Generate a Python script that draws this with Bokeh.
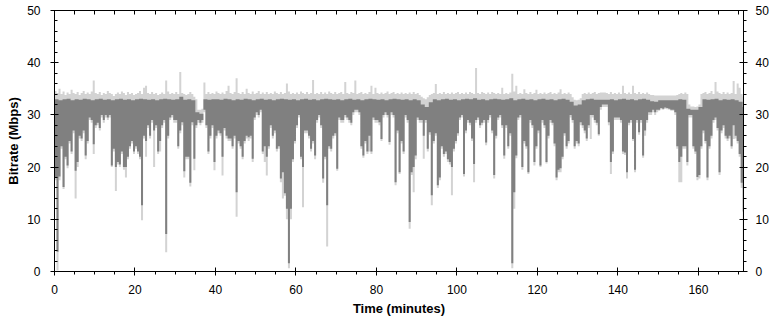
from bokeh.plotting import figure
from bokeh.models import Range1d, LinearAxis, SingleIntervalTicker, FixedTicker
from bokeh.embed import file_html
from bokeh.resources import INLINE

# ---- data, bins of 0.5 minute ----
bin_minutes = 0.5

# lowest value of the dark (average) trace in each half-minute bin, Mbps
dark_lo = [
    18.0, 3.8, 18.2, 24.0, 16.2, 22.0, 20.3, 25.0, 23.0, 27.0,
    19.3, 21.0, 26.0, 25.5, 27.0, 22.2, 25.0, 29.5, 29.0, 24.4,
    28.0, 28.5, 27.5, 30.0, 29.0, 30.0, 29.5, 30.0, 20.3, 23.5,
    20.0, 21.0, 20.5, 23.0, 20.0, 20.0, 22.0, 24.0, 25.0, 23.0,
    24.0, 23.0, 22.0, 12.7, 26.0, 25.0, 28.0, 26.0, 29.0, 27.0,
    28.0, 23.0, 25.0, 28.0, 29.0, 7.2, 26.0, 29.5, 30.0, 29.0,
    29.0, 24.0, 27.0, 28.6, 19.2, 22.0, 22.0, 17.0, 28.6, 21.6,
    28.0, 29.0, 28.5, 29.0, 31.0, 28.0, 23.0, 26.0, 28.0, 21.0,
    26.0, 27.0, 26.5, 22.0, 27.5, 26.0, 25.5, 25.5, 24.0, 26.0,
    15.2, 25.0, 24.0, 22.0, 25.0, 26.0, 25.7, 26.0, 21.6, 29.5,
    30.5, 30.0, 31.0, 23.0, 24.0, 22.0, 24.0, 28.0, 26.0, 27.0,
    23.5, 24.0, 17.8, 19.0, 15.0, 12.0, 1.6, 12.0, 21.5, 25.0,
    28.0, 30.0, 22.0, 20.0, 27.0, 27.0, 26.0, 23.5, 25.0, 22.2,
    29.0, 30.0, 28.0, 17.8, 22.0, 12.7, 24.0, 23.5, 26.0, 26.5,
    19.7, 29.5, 29.0, 29.0, 30.0, 29.5, 29.0, 28.5, 30.5, 31.0,
    31.0, 30.5, 24.0, 22.2, 25.0, 23.0, 26.0, 23.0, 29.5, 29.0,
    29.0, 28.6, 25.4, 30.0, 30.5, 30.0, 24.8, 30.5, 30.0, 17.1,
    27.0, 19.0, 25.0, 23.0, 30.0, 29.0, 9.5, 19.0, 20.0, 22.2,
    29.5, 29.0, 29.0, 26.0, 29.0, 23.5, 26.7, 14.6, 25.0, 26.5,
    16.5, 18.0, 24.0, 22.5, 23.0, 21.5, 21.0, 20.0, 23.5, 25.0,
    26.5, 29.5, 30.0, 18.7, 27.0, 29.0, 28.5, 25.5, 20.6, 29.0,
    29.5, 28.0, 28.5, 29.0, 24.7, 29.0, 30.0, 27.0, 18.5, 26.0,
    29.5, 30.0, 28.0, 22.2, 28.0, 24.0, 26.5, 1.6, 15.2, 22.2,
    29.5, 30.0, 20.0, 25.0, 24.0, 19.0, 29.0, 28.0, 21.0, 24.0,
    27.0, 20.3, 29.0, 28.0, 21.0, 26.0, 29.0, 28.5, 24.5, 18.0,
    19.5, 19.8, 22.0, 26.5, 24.0, 25.0, 30.0, 29.0, 24.0, 25.0,
    24.5, 28.6, 28.0, 27.0, 25.5, 28.0, 30.0, 30.0, 29.0, 28.5,
    26.3, 31.5, 32.0, 32.0, 32.0, 28.6, 21.0, 23.0, 29.5, 29.5,
    29.5, 29.0, 23.0, 22.8, 19.0, 28.5, 29.0, 25.4, 19.5, 29.0,
    26.7, 29.0, 22.2, 27.0, 29.0, 30.5, 30.5, 31.0, 30.5, 31.0,
    31.0, 31.3, 31.2, 31.4, 31.3, 31.2, 31.0, 31.0, 30.5, 24.0,
    21.0, 22.0, 24.0, 24.0, 21.0, 30.0, 30.0, 24.0, 23.0, 18.1,
    18.5, 24.0, 27.0, 25.0, 18.0, 24.0, 26.0, 29.0, 29.5, 27.5,
    19.0, 27.0, 28.0, 26.0, 25.5, 26.0, 24.0, 28.0, 26.0, 25.0,
    22.5, 17.0, 11.5,
]

# lowest value of the light (peak range) trace in each half-minute bin, Mbps
light_lo = [
    17.5, 0.2, 17.5, 23.5, 15.8, 21.5, 19.8, 24.5, 22.5, 26.5,
    14.0, 20.0, 25.5, 25.0, 26.5, 21.5, 24.5, 29.0, 28.5, 22.5,
    27.5, 28.0, 27.0, 29.5, 28.5, 29.5, 29.0, 29.5, 20.0, 23.0,
    15.4, 20.5, 20.0, 22.5, 19.5, 18.0, 21.5, 23.5, 24.5, 22.5,
    23.5, 22.5, 21.5, 9.8, 25.5, 22.0, 27.5, 25.5, 28.5, 20.0,
    27.5, 22.5, 23.0, 27.5, 28.5, 3.7, 25.5, 29.0, 29.5, 28.5,
    28.5, 23.5, 26.5, 28.0, 18.0, 21.5, 21.5, 16.3, 28.0, 19.4,
    27.5, 28.5, 28.0, 28.5, 30.5, 27.5, 22.5, 25.5, 27.5, 19.4,
    25.5, 26.5, 26.0, 18.4, 27.0, 25.5, 25.0, 25.0, 23.5, 25.5,
    10.5, 24.5, 23.5, 21.5, 24.5, 25.5, 25.0, 25.5, 21.0, 29.0,
    30.0, 29.5, 30.5, 22.5, 21.0, 18.4, 23.5, 27.5, 25.5, 26.5,
    23.0, 23.5, 17.1, 14.0, 14.5, 10.0, 0.6, 10.0, 21.0, 24.5,
    27.5, 29.5, 21.5, 12.3, 26.5, 26.5, 25.5, 23.0, 24.5, 21.5,
    28.5, 29.5, 27.5, 17.0, 21.5, 4.8, 23.5, 23.0, 25.5, 26.0,
    19.3, 29.0, 28.5, 28.5, 29.5, 29.0, 28.5, 28.0, 30.0, 30.5,
    30.5, 30.0, 23.5, 21.8, 24.5, 22.5, 23.0, 22.5, 29.0, 28.5,
    28.5, 28.0, 25.0, 29.5, 30.0, 29.5, 24.3, 30.0, 29.5, 16.5,
    26.5, 18.7, 24.5, 22.5, 29.5, 28.5, 8.2, 18.5, 15.2, 21.5,
    29.0, 28.5, 28.5, 21.6, 28.5, 23.0, 26.2, 12.7, 24.5, 26.0,
    16.0, 17.5, 23.5, 22.0, 22.5, 21.0, 20.5, 14.6, 23.0, 24.5,
    26.0, 29.0, 29.5, 18.2, 26.5, 28.5, 28.0, 25.0, 17.1, 28.5,
    29.0, 27.5, 28.0, 28.5, 24.2, 28.5, 29.5, 26.5, 17.8, 25.5,
    29.0, 29.5, 27.5, 21.6, 27.5, 23.5, 26.0, 0.6, 12.0, 21.7,
    29.0, 29.5, 19.5, 24.5, 23.5, 18.7, 28.5, 27.5, 20.3, 23.5,
    26.5, 20.0, 28.5, 27.5, 20.7, 25.5, 28.5, 28.0, 24.0, 17.5,
    19.0, 19.0, 21.5, 26.0, 23.5, 24.5, 29.5, 28.5, 23.5, 24.5,
    24.0, 28.0, 27.5, 26.5, 25.0, 27.5, 25.4, 29.5, 28.5, 28.0,
    26.0, 31.0, 31.5, 31.5, 31.5, 28.0, 18.7, 22.5, 29.0, 29.0,
    29.0, 28.5, 22.5, 22.3, 17.8, 28.0, 28.5, 25.0, 19.0, 28.5,
    26.2, 28.5, 21.8, 26.0, 28.5, 30.0, 30.0, 30.5, 30.0, 30.5,
    30.8, 31.1, 31.0, 31.2, 31.1, 31.0, 30.8, 30.8, 30.0, 23.5,
    17.1, 17.1, 23.5, 23.5, 20.3, 29.5, 29.5, 23.5, 22.5, 17.5,
    17.8, 23.5, 26.5, 24.5, 17.5, 23.5, 25.5, 28.5, 29.0, 27.0,
    18.5, 26.5, 27.5, 25.5, 25.0, 25.5, 23.5, 25.4, 25.5, 24.5,
    22.0, 16.0, 5.9,
]

# highest value of the light (peak range) trace in each half-minute bin, Mbps
light_hi = [
    34.6, 34.2, 35.0, 34.0, 34.5, 33.8, 34.3, 34.0, 34.8, 34.2,
    34.0, 34.4, 33.8, 34.2, 34.6, 34.0, 34.3, 34.0, 34.5, 36.6,
    34.2, 34.0, 34.4, 33.8, 34.2, 34.0, 34.6, 34.2, 34.0, 33.6,
    34.0, 34.3, 34.0, 34.5, 34.2, 33.8, 34.4, 34.0, 34.2, 33.8,
    34.0, 34.2, 34.6, 34.0, 35.2, 35.6, 34.2, 34.0, 34.4, 34.0,
    34.2, 33.8, 34.0, 34.3, 34.0, 36.6, 34.5, 34.0, 34.2, 34.0,
    34.4, 34.0, 38.2, 34.2, 34.0, 33.8, 34.0, 34.4, 34.0, 33.5,
    33.0, 31.0, 31.0, 31.2, 36.2, 34.0, 34.4, 34.0, 34.2, 34.0,
    34.5, 34.2, 34.0, 34.3, 34.0, 34.6, 35.6, 34.2, 34.0, 34.4,
    37.0, 34.2, 34.0, 34.4, 34.0, 35.0, 34.2, 34.0, 34.5, 34.0,
    34.2, 34.6, 34.0, 34.3, 34.0, 34.4, 34.0, 34.2, 34.0, 34.5,
    34.2, 34.0, 34.4, 34.0, 34.2, 36.0, 34.5, 34.0, 34.2, 34.0,
    34.3, 34.0, 34.5, 34.2, 34.0, 34.4, 34.0, 34.2, 36.7, 34.0,
    34.2, 34.0, 34.4, 34.0, 34.3, 34.0, 34.5, 34.2, 34.0, 34.4,
    34.0, 34.2, 34.4, 34.0, 36.3, 34.2, 34.0, 34.4, 34.2, 36.6,
    34.0, 34.2, 34.4, 34.0, 34.2, 34.0, 34.4, 35.6, 34.0, 35.2,
    34.2, 34.0, 34.3, 34.0, 34.2, 34.5, 34.0, 34.2, 34.4, 34.0,
    34.2, 34.0, 34.3, 34.0, 34.2, 34.0, 34.3, 34.0, 34.4, 34.0,
    34.2, 33.8, 33.5, 33.2, 33.0, 33.4, 33.8, 34.0, 34.2, 35.9,
    34.0, 34.2, 34.0, 34.4, 34.0, 34.2, 34.0, 34.3, 34.0, 34.2,
    34.4, 34.0, 34.2, 34.0, 34.3, 34.0, 34.4, 34.2, 34.0, 39.0,
    34.2, 34.0, 34.4, 34.2, 34.0, 34.3, 34.0, 34.4, 34.2, 34.0,
    34.2, 34.0, 35.2, 34.0, 34.2, 34.0, 34.3, 37.9, 34.5, 35.6,
    34.0, 34.2, 34.0, 34.9, 34.2, 34.0, 34.4, 34.0, 34.2, 34.8,
    34.0, 34.2, 34.0, 34.3, 34.0, 34.2, 34.4, 34.0, 34.2, 34.0,
    34.3, 34.9, 34.0, 34.2, 34.0, 34.3, 34.0, 33.4, 32.9, 32.8,
    32.9, 33.2, 34.0, 34.2, 34.0, 34.3, 34.0, 34.2, 34.4, 34.0,
    34.2, 34.3, 34.3, 34.3, 34.2, 34.0, 34.4, 34.0, 34.2, 34.0,
    34.3, 34.0, 35.6, 34.2, 34.0, 34.3, 34.0, 35.6, 34.2, 34.0,
    34.4, 34.0, 34.2, 34.0, 34.3, 34.0, 33.8, 33.8, 33.7, 33.7,
    33.7, 33.7, 33.7, 33.7, 33.7, 33.7, 33.7, 33.7, 33.7, 33.8,
    34.0, 34.2, 34.0, 34.3, 34.0, 32.0, 31.6, 31.6, 31.5, 31.6,
    32.0, 34.0, 34.2, 34.4, 34.0, 34.2, 34.6, 34.0, 36.3, 34.5,
    34.2, 34.0, 34.4, 34.0, 34.3, 34.0, 34.2, 36.5, 34.0, 36.0,
    35.2, 34.0, 33.5,
]

# highest value of the dark (average) trace, one value per minute, Mbps
dark_hi = [
    33.0, 32.8, 33.0, 33.1, 32.8, 33.0, 32.9, 33.1, 33.0, 32.8,
    33.0, 33.1, 32.9, 33.0, 32.8, 33.0, 33.1, 32.9, 33.0, 32.8,
    33.0, 33.1, 33.0, 32.9, 33.0, 32.8, 33.0, 33.1, 33.0, 32.9,
    33.0, 33.5, 32.9, 33.0, 32.8, 30.5, 30.2, 33.0, 32.9, 33.0,
    33.0, 32.9, 33.1, 33.0, 32.8, 33.0, 32.9, 33.1, 33.0, 32.8,
    33.0, 33.1, 32.9, 33.0, 32.8, 33.0, 33.1, 33.0, 32.9, 33.0,
    32.8, 33.0, 33.1, 32.9, 33.0, 32.8, 33.0, 33.1, 33.0, 32.9,
    33.0, 32.8, 33.0, 33.1, 32.9, 33.0, 32.8, 33.0, 33.1, 33.0,
    32.9, 33.0, 32.8, 33.0, 33.1, 33.0, 32.9, 33.0, 32.8, 33.0,
    32.8, 32.0, 31.5, 32.4, 33.0, 32.8, 33.0, 33.1, 32.9, 33.0,
    32.8, 33.0, 33.1, 33.0, 33.2, 32.9, 33.0, 32.8, 33.0, 33.1,
    33.0, 32.9, 33.0, 33.2, 32.8, 33.0, 33.1, 32.9, 33.0, 32.8,
    33.0, 33.1, 32.9, 33.0, 32.8, 33.0, 33.1, 32.9, 32.5, 31.8,
    32.0, 32.8, 33.0, 33.1, 32.9, 32.9, 32.9, 32.9, 33.0, 32.8,
    33.0, 33.1, 32.9, 33.0, 32.8, 33.0, 33.1, 32.9, 32.6, 32.5,
    32.8, 32.8, 32.8, 32.8, 32.8, 33.0, 32.9, 31.2, 31.0, 31.0,
    31.5, 33.0, 32.9, 33.0, 33.1, 32.8, 33.0, 32.9, 33.0, 32.8,
    32.5, 31.5,
]

x_end = 171.2
y_end = 50
x_major, x_minor = 20, 5
y_major, y_minor = 10, 2

LIGHT = "#d3d3d3"
DARK = "#808080"
FONT = "Liberation Sans"

n = len(dark_lo)
dark_top = [dark_hi[int(i * bin_minutes)] for i in range(n)]


def step_band(lo, hi):
    """Outline of a stepped band between lo and hi, one step per bin."""
    xs, ys = [], []
    for i in range(n):
        xs += [i * bin_minutes, (i + 1) * bin_minutes]
        ys += [hi[i], hi[i]]
    for i in reversed(range(n)):
        xs += [(i + 1) * bin_minutes, i * bin_minutes]
        ys += [lo[i], lo[i]]
    return xs, ys


p = figure(width=776, height=320, output_backend="svg", toolbar_location=None,
           x_range=Range1d(0, x_end), y_range=Range1d(0, y_end),
           min_border_left=54, min_border_right=33, min_border_top=10,
           min_border_bottom=49)
p.outline_line_color = None
p.xgrid.visible = False
p.ygrid.visible = False
p.background_fill_color = "white"
p.border_fill_color = "white"

lx, ly_ = step_band(light_lo, light_hi)
p.patch(lx, ly_, fill_color=LIGHT, line_color=None)
dx, dy = step_band(dark_lo, dark_top)
p.patch(dx, dy, fill_color=DARK, line_color=None)


def style(ax, minor_in, minor_out, major_in, major_out):
    ax.axis_line_color = "black"
    ax.major_tick_line_color = "black"
    ax.minor_tick_line_color = "black"
    ax.major_tick_in = major_in
    ax.major_tick_out = major_out
    ax.minor_tick_in = minor_in
    ax.minor_tick_out = minor_out
    ax.major_label_text_font = FONT
    ax.major_label_text_font_size = "12px"
    ax.major_label_text_color = "black"
    ax.axis_label_text_font = FONT
    ax.axis_label_text_font_size = "13px"
    ax.axis_label_text_font_style = "bold"
    ax.axis_label_text_color = "black"


bx = p.xaxis[0]
bx.ticker = SingleIntervalTicker(interval=x_major, num_minor_ticks=x_major // x_minor)
bx.axis_label = "Time (minutes)"
style(bx, 0, 3, 4, 4)
bx.major_label_standoff = 9
bx.axis_label_standoff = 4

lyax = p.yaxis[0]
lyax.ticker = SingleIntervalTicker(interval=y_major, num_minor_ticks=y_major // y_minor)
lyax.axis_label = "Bitrate (Mbps)"
style(lyax, 3, 0, 4, 4)
lyax.major_label_standoff = 10
lyax.axis_label_standoff = 3

ry = LinearAxis(ticker=SingleIntervalTicker(interval=y_major, num_minor_ticks=y_major // y_minor))
style(ry, 0, 3, 4, 4)
ry.major_label_standoff = 8
p.add_layout(ry, "right")

# top axis: ticks only (no labels) -> every tick given as a minor tick
top_ticks = list(range(0, int(x_end) + 1, x_minor))
tx = LinearAxis(ticker=FixedTicker(ticks=[], minor_ticks=top_ticks))
style(tx, 4, 0, 4, 0)
tx.major_label_standoff = 0
p.add_layout(tx, "above")

open("out.html", "w").write(file_html(p, INLINE))
